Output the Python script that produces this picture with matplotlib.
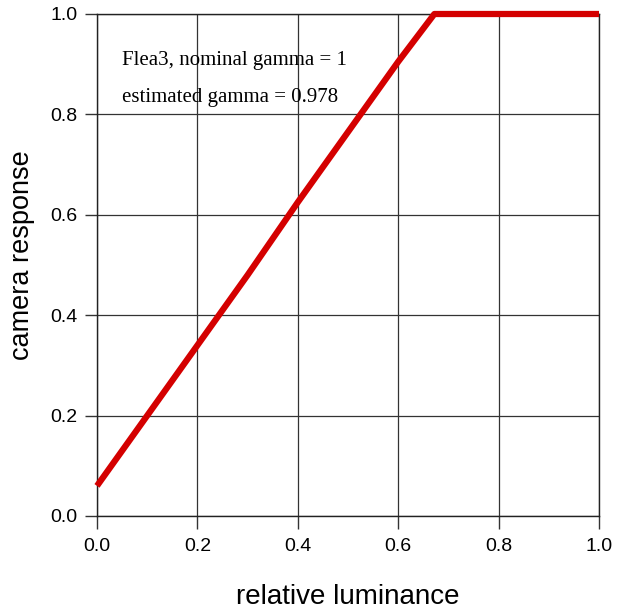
import matplotlib
matplotlib.use("Agg")
import matplotlib.pyplot as plt

lum = [0.0, 0.1, 0.2, 0.3, 0.4, 0.5, 0.6, 0.672, 0.8, 0.9, 1.0]
resp = [0.06, 0.20, 0.34, 0.48, 0.625, 0.765, 0.905, 1.0, 1.0, 1.0, 1.0]
ticks = [0.0, 0.2, 0.4, 0.6, 0.8, 1.0]
tick_labels = ["0.0", "0.2", "0.4", "0.6", "0.8", "1.0"]
note_lines = ["Flea3, nominal gamma = 1", "estimated gamma = 0.978"]

sans = ["Liberation Sans", "DejaVu Sans"]
serif = ["Liberation Serif", "DejaVu Serif"]

fig = plt.figure(figsize=(6.24, 6.11), dpi=100)
ax = fig.add_axes([97/624, 1-516/611, 502/624, 502/611])
ax.set_xlim(0, 1)
ax.set_ylim(0, 1)
ax.set_xticks(ticks)
ax.set_yticks(ticks)
ax.set_xticklabels(tick_labels, family=sans, fontsize=14)
ax.set_yticklabels(tick_labels, family=sans, fontsize=14)
ax.tick_params(direction="out", length=9, width=1, color="#333333")
ax.tick_params(axis="y", pad=5)
ax.tick_params(axis="x", pad=7)
ax.grid(True, color="#333333", linewidth=0.9)
ax.set_axisbelow(True)
for s in ax.spines.values():
    s.set_color("#222222")
    s.set_linewidth(1.0)
ax.plot(lum, resp, color="#d40000", linewidth=4.5, solid_capstyle="butt", zorder=3, clip_on=False)
ax.text(0.05, 0.898, note_lines[0], transform=ax.transAxes, family=serif, fontsize=15, va="baseline")
ax.text(0.05, 0.825, note_lines[1], transform=ax.transAxes, family=serif, fontsize=15, va="baseline")
ax.set_xlabel("relative luminance", family=sans, fontsize=20)
ax.set_ylabel("camera response", family=sans, fontsize=19.5)
ax.xaxis.set_label_coords(0.5, -(597 - 516) / 502, transform=ax.transAxes)
ax.yaxis.set_label_coords(-(97 - 22) / 502, (516 - 255) / 502, transform=ax.transAxes)
ax.xaxis.label.set_va("center")
ax.yaxis.label.set_va("center")
fig.savefig("out.png", dpi=100)
